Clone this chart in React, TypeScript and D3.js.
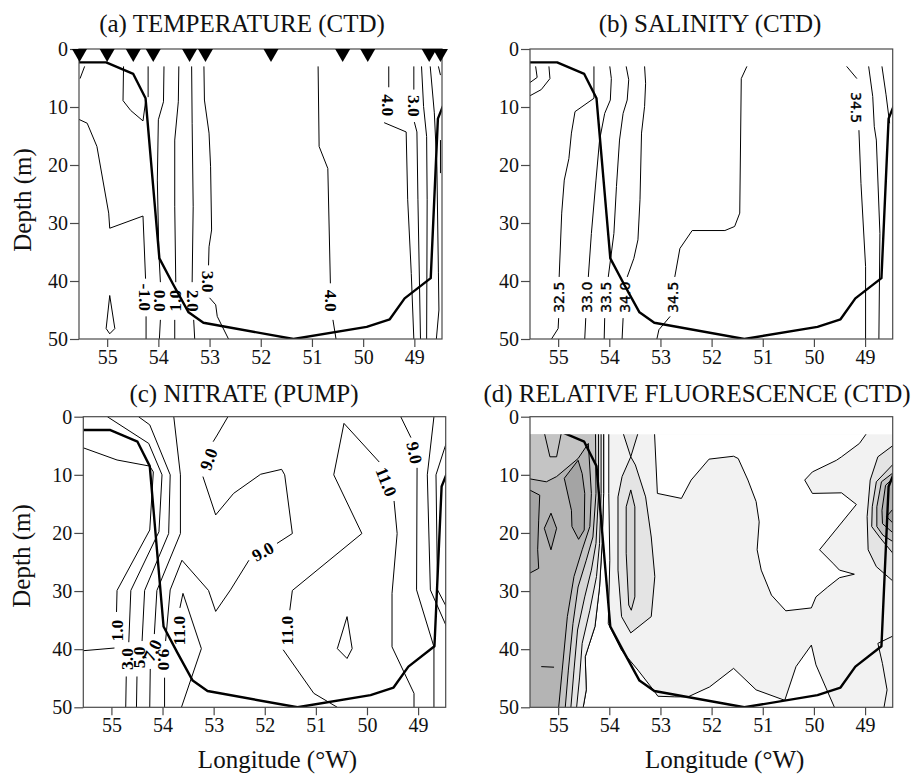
import React, { useRef, useEffect } from 'react';
import * as d3 from 'd3';

type Pt = [number, number]; // [longitude °W, depth m]
interface ContourLabel { text: string; at: Pt; rot: number }
interface Contour { segs: Pt[][]; labels?: ContourLabel[] }
interface Region { fill?: string; pts: Pt[] }

const lonTicks = [55, 54, 53, 52, 51, 50, 49];
const depthTicks = [0, 10, 20, 30, 40, 50];
const lonExtent: Pt = [55.55, 48.46];
const depthExtent: Pt = [0, 50];

// station positions (triangles on top of panel a)
const stationLon = [55.54, 55.0, 54.49, 54.1, 53.39, 53.08, 51.8, 50.4, 49.91, 48.71, 48.49];

// heavy line repeated in all four panels
const heavyLine: Pt[] = [
  [55.56, 2.3], [55.02, 2.3], [54.49, 4.3], [54.25, 8.5], [53.98, 36.1], [53.71, 40.6],
  [53.41, 45.4], [53.12, 47.2], [51.36, 50], [49.93, 47.9], [49.48, 46.6], [49.19, 43],
  [48.68, 39.5], [48.54, 12.0], [48.44, 9.8],
];

// (a) temperature contours
const temperature: Contour[] = [
  { segs: [[[55.44, 3], [55.53, 5.1]]] },
  {
    segs: [[[55.56, 12.1], [55.39, 12.8], [55.2, 16.8], [54.97, 28.3], [54.95, 30.9], [54.3, 28.8], [54.25, 39.6]], [[54.24, 46.1], [54.24, 50]]],
    labels: [{ text: '-1.0', at: [54.25, 42.8], rot: 90 }],
  },
  { segs: [[[54.2, 3], [54.2, 8.3]]] },
  { segs: [[[54.95, 42.5], [55.02, 48.2], [54.95, 49.1], [54.85, 48.2], [54.95, 42.5]]] },
  { segs: [[[54.68, 3], [54.69, 8.9], [54.54, 10.6], [54.3, 12.4], [54.25, 9.1]]] },
  {
    segs: [[[53.89, 3], [53.9, 9.1], [54.0, 12.2], [54.02, 22.6], [53.99, 35.2], [53.96, 40.2]], [[53.96, 46.7], [53.98, 50]]],
    labels: [{ text: '0.0', at: [53.96, 43.4], rot: 90 }],
  },
  {
    segs: [[[53.6, 3], [53.61, 9.1], [53.68, 15.7], [53.68, 27.2], [53.66, 40.2]], [[53.68, 46.7], [53.68, 50]]],
    labels: [{ text: '1.0', at: [53.67, 43.4], rot: -90 }],
  },
  {
    segs: [[[53.35, 3], [53.34, 12.8], [53.32, 27.2], [53.34, 40.2]], [[53.31, 46.7], [53.29, 50]]],
    labels: [{ text: '2.0', at: [53.33, 43.4], rot: 90 }],
  },
  {
    segs: [[[53.11, 3], [53.1, 8.8], [53.01, 14.5], [52.98, 20.3], [52.96, 31.2], [53.01, 34.1], [53.02, 37.3]], [[53.0, 42.9], [52.88, 44.1], [52.85, 46.1], [52.63, 50]]],
    labels: [{ text: '3.0', at: [53.03, 40.1], rot: 90 }],
  },
  {
    segs: [[[50.88, 3], [50.86, 16.8], [50.69, 20.6], [50.64, 40.4]], [[50.59, 46.7], [50.53, 50]]],
    labels: [{ text: '4.0', at: [50.63, 43.4], rot: 90 }],
  },
  {
    segs: [[[49.5, 3], [49.5, 6.6]], [[49.59, 12.7], [49.16, 14.3], [49.13, 26], [49.06, 38.7], [49.01, 50]]],
    labels: [{ text: '4.0', at: [49.52, 9.7], rot: 90 }],
  },
  {
    segs: [[[49.01, 3], [49.01, 7.0]], [[49.0, 12.6], [48.95, 14.3], [48.93, 26], [48.88, 50]]],
    labels: [{ text: '3.0', at: [49.0, 9.8], rot: 90 }],
  },
  { segs: [[[48.86, 3], [48.82, 9.9], [48.76, 15.1], [48.75, 26], [48.76, 50]]] },
  { segs: [[[48.69, 3], [48.61, 11], [48.56, 20.2], [48.53, 38.6], [48.52, 45], [48.57, 50]]] },
  { segs: [[[48.53, 3], [48.49, 4.5]], [[48.49, 15.7], [48.49, 21.4]]] },
];

// (b) salinity contours
const salinity: Contour[] = [
  { segs: [[[55.44, 3], [55.41, 4.9], [55.6, 6.1]]] },
  { segs: [[[55.18, 3], [55.16, 5.1], [55.33, 7.0], [55.6, 8.3]]] },
  {
    segs: [[[54.3, 3], [54.3, 8.5], [54.67, 10.8], [54.74, 14.5], [54.79, 18.9], [54.88, 22.6], [54.93, 28.3], [54.98, 39.3]], [[54.99, 46.4], [55.0, 48.2], [55.13, 50]]],
    labels: [{ text: '32.5', at: [54.99, 42.8], rot: -90 }],
  },
  {
    segs: [[[53.99, 3], [53.96, 5.1], [53.98, 8.8], [54.09, 11.1], [54.19, 15.7], [54.26, 22.6], [54.35, 31.8], [54.41, 39.3]], [[54.46, 46.4], [54.48, 50]]],
    labels: [{ text: '33.0', at: [54.43, 42.8], rot: -90 }],
  },
  {
    segs: [[[53.67, 3], [53.62, 5.3], [53.65, 8.8], [53.73, 11.1], [53.8, 15.7], [53.86, 23.7], [53.91, 31.8], [54.02, 39.3]], [[54.09, 46.4], [54.1, 50]]],
    labels: [{ text: '33.5', at: [54.06, 42.8], rot: -90 }],
  },
  {
    segs: [[[53.31, 3], [53.29, 5.9], [53.31, 9.9], [53.37, 14.5], [53.4, 26.0], [53.44, 32.9], [53.52, 36.1], [53.65, 39.3]], [[53.73, 46.4], [53.75, 50]]],
    labels: [{ text: '34.0', at: [53.69, 42.8], rot: -90 }],
  },
  {
    segs: [[[51.31, 3], [51.42, 5.1], [51.45, 28.3], [51.55, 30.6], [51.74, 31.3], [52.38, 31.3], [52.62, 34.4], [52.72, 39.3]], [[52.81, 46.1], [53.03, 48.4], [53.07, 50]]],
    labels: [{ text: '34.5', at: [52.76, 42.8], rot: -90 }],
  },
  {
    segs: [[[49.36, 3], [49.16, 5.1]], [[49.12, 14.0], [49.08, 23.2], [48.99, 37.5], [48.99, 50]]],
    labels: [{ text: '34.5', at: [49.18, 10.1], rot: 90 }],
  },
  { segs: [[[48.93, 3], [48.85, 8.2], [48.82, 13.4], [48.78, 15.7], [48.71, 31.8], [48.73, 50]]] },
  { segs: [[[48.67, 3], [48.59, 7.9], [48.52, 12.8]]] },
];

// (c) nitrate contours
const nitrate: Contour[] = [
  {
    segs: [[[55.6, 5.2], [54.89, 7.45], [54.25, 8.5], [54.18, 9.5], [54.25, 19.5], [54.89, 29.9], [54.9, 33.6]], [[54.94, 39.8], [55.6, 40.3]]],
    labels: [{ text: '1.0', at: [54.89, 36.8], rot: -90 }],
  },
  {
    segs: [[[55.08, 0], [54.27, 4.6], [54.01, 10.0], [54.07, 19.8], [54.62, 29.9], [54.66, 38.8]], [[54.71, 44.7], [54.72, 50]]],
    labels: [{ text: '3.0', at: [54.69, 41.7], rot: -90 }],
  },
  {
    segs: [[[54.47, 0], [54.25, 1.4], [53.85, 10.0], [53.88, 20.1], [54.35, 29.9], [54.4, 38.6]], [[54.5, 44.7], [54.51, 50]]],
    labels: [{ text: '5.0', at: [54.47, 41.4], rot: -90 }],
  },
  {
    segs: [[[53.78, 0], [53.65, 10.0], [53.65, 20.1], [54.11, 29.9], [54.16, 37.4]], [[54.24, 43.4], [54.25, 50]]],
    labels: [{ text: '7.0', at: [54.2, 40.2], rot: -65 }],
  },
  {
    segs: [
      [[52.72, 0], [52.93, 3.15], [53.01, 4.3]],
      [[53.21, 10.3], [52.96, 16.9], [52.61, 13.2], [52.08, 9.9], [51.67, 9.06], [51.61, 10.0], [51.46, 20.1], [51.76, 21.8]],
      [[52.31, 24.7], [52.67, 29.8], [52.96, 33.5], [53.1, 29.9], [53.62, 24.7], [53.85, 29.8], [53.94, 38.6]],
      [[53.96, 44.9], [53.96, 50]],
    ],
    labels: [
      { text: '9.0', at: [53.1, 7.3], rot: -70 },
      { text: '9.0', at: [52.04, 23.2], rot: -30 },
      { text: '9.0', at: [53.96, 41.8], rot: 90 },
    ],
  },
  {
    segs: [[[53.63, 50], [53.24, 39.9], [53.6, 30.4], [53.66, 32.9]]],
    labels: [{ text: '11.0', at: [53.68, 36.8], rot: -90 }],
  },
  {
    segs: [
      [[49.08, 50], [49.08, 47.6], [49.51, 39.6], [49.51, 30.4], [49.41, 20.1], [49.47, 14.5]],
      [[49.76, 7.8], [50.45, 1.15], [50.65, 10.0], [50.1, 20.1], [51.46, 29.9], [51.51, 33.3]],
      [[51.64, 40.1], [51.04, 47.6], [50.58, 50]],
    ],
    labels: [
      { text: '11.0', at: [49.62, 11.2], rot: 68 },
      { text: '11.0', at: [51.56, 36.8], rot: -90 },
    ],
  },
  { segs: [[[50.39, 34.4], [50.58, 39.9], [50.39, 41.6], [50.29, 39.9], [50.39, 34.4]]] },
  {
    segs: [[[49.34, 0], [49.14, 3.6]], [[49.02, 8.8], [49.03, 29.8], [48.69, 39.6], [48.69, 50]]],
    labels: [{ text: '9.0', at: [49.07, 6.2], rot: 78 }],
  },
  { segs: [[[48.69, 0], [48.82, 10.0], [48.76, 29.8], [48.4, 37.0]]] },
  { segs: [[[48.4, 3.2], [48.65, 10.0], [48.62, 29.8], [48.4, 33.5]]] },
];

// (d) relative fluorescence: shaded bands, drawn back to front
const L0 = '#ffffff';
const L1 = '#f2f2f2';
const L2 = '#e4e4e4';
const L3 = '#d6d6d6';
const L4 = '#c4c4c4';
const L5 = '#b4b4b4';
const L6 = '#a4a4a4';

const fluorescence: Region[] = [
  {
    fill: L0, pts: [[53.12, 2], [53.06, 13.2], [52.59, 14.06], [52.4, 10.9], [52.05, 7.3], [51.57, 6.8], [51.48, 7.2], [51.29, 10.9], [51.13, 14.6], [51.07, 18.1], [51.11, 22.9], [51.03, 26.4], [50.83, 30.7], [50.55, 33.4], [50.05, 32.9], [49.96, 31.0], [49.73, 29.3], [49.5, 27.7], [49.21, 27.1], [49.5, 26.4], [49.63, 25.2], [49.89, 22.9], [49.17, 15.1], [49.46, 13.1], [50.03, 13.2], [50.18, 10.9], [50.03, 9.5], [49.56, 7.5], [49.46, 6.9], [49.11, 4.6], [48.9, 2]],
  },
  {
    fill: L0, pts: [[54.01, 2], [54.01, 13.2], [53.99, 24.7], [54.02, 35.6], [53.76, 40.2], [53.44, 43.6], [53.14, 47.0], [53.05, 48.1], [52.72, 48.2], [52.46, 48.2], [52.04, 46.5], [51.57, 43.3], [51.13, 47.0], [50.57, 48.8], [50.35, 43.0], [50.05, 39.3], [49.96, 42.7], [49.55, 51], [54.53, 51], [54.45, 47.0], [54.47, 41.3], [54.28, 36.1], [54.19, 29.3], [54.14, 21.8], [54.11, 13.2], [54.11, 2]],
  },
  { fill: L2, pts: [[53.76, 2], [53.58, 6.9], [53.41, 2]] },
  { fill: L2, pts: [[53.58, 6.9], [53.75, 10.3], [53.83, 13.8], [53.83, 26.4], [53.76, 34.4], [53.58, 37.2], [53.18, 34.4], [53.11, 27.5], [53.18, 20.7], [53.29, 13.8], [53.49, 8.3]] },
  { fill: L3, pts: [[53.58, 12.6], [53.67, 15.5], [53.67, 23.5], [53.62, 32.4], [53.57, 33.3], [53.5, 31.0], [53.5, 15.5]] },
  { fill: L2, pts: [[48.4, 4.6], [48.75, 6.9], [48.9, 10.9], [48.96, 17.2], [48.94, 22.9], [48.78, 25.8], [48.4, 28.7]] },
  { fill: L3, pts: [[48.4, 7.7], [48.78, 11.2], [48.86, 15.5], [48.87, 18.9], [48.7, 20.9], [48.4, 24.1]] },
  { fill: L4, pts: [[48.4, 9.3], [48.68, 11.2], [48.77, 15.5], [48.77, 18.9], [48.65, 20.4], [48.4, 21.8]] },
  { fill: L5, pts: [[48.4, 10.2], [48.6, 11.8], [48.67, 16.1], [48.66, 18.4], [48.4, 20.4]] },
  { fill: L6, pts: [[48.4, 15.3], [48.58, 17.2], [48.4, 18.8]] },
  { pts: [[48.4, 37.5], [48.75, 39.0], [48.66, 42.5], [48.57, 47.0], [48.65, 51], [48.4, 51]] },
  { fill: L1, pts: [[54.11, 2], [54.11, 13.2], [54.14, 21.8], [54.19, 29.3], [54.28, 36.1], [54.47, 41.3], [54.45, 47.0], [54.53, 51], [56, 51], [56, 2]] },
  { fill: L2, pts: [[54.16, 2], [54.16, 13.2], [54.19, 21.8], [54.25, 27.5], [54.38, 33.3], [54.53, 39.0], [54.58, 44.8], [54.65, 51], [56, 51], [56, 2]] },
  { fill: L3, pts: [[54.21, 2], [54.21, 13.2], [54.26, 21.8], [54.35, 26.4], [54.48, 31.0], [54.62, 36.7], [54.69, 43.6], [54.76, 51], [56, 51], [56, 2]] },
  { fill: L4, pts: [[54.27, 2], [54.26, 13.2], [54.32, 20.7], [54.45, 24.7], [54.61, 29.3], [54.71, 35.6], [54.8, 43.6], [54.87, 51], [56, 51], [56, 2]] },
  { pts: [[55.29, 2], [55.16, 6.9], [55.03, 6.9], [54.92, 2]] },
  { fill: L5, pts: [[56, 10.0], [55.23, 11.2], [55.03, 10.3], [54.61, 7.2], [54.41, 4.6], [54.35, 13.2], [54.38, 18.9], [54.53, 22.9], [54.69, 27.5], [54.82, 34.4], [54.92, 43.6], [55.0, 51], [56, 51]] },
  { fill: L6, pts: [[56, 10.6], [55.36, 13.5], [55.38, 17.8], [55.4, 22.9], [55.38, 26.1], [56, 29.0]] },
  { fill: L6, pts: [[54.61, 7.5], [54.88, 10.6], [54.74, 16.1], [54.73, 18.9], [54.6, 21.1], [54.49, 19.5], [54.48, 13.2], [54.53, 9.8]] },
  { fill: L6, pts: [[55.14, 16.6], [55.27, 19.2], [55.14, 22.9], [55.03, 19.2]] },
];
const fluorTicks: Pt[][] = [[[55.33, 43.0], [55.08, 43.1]]];

const SERIF = '"Liberation Serif", "Times New Roman", Times, serif';
const SANS = '"DejaVu Sans", Verdana, sans-serif';
const FRAME = '#4a4a4a';

const panels = [
  { id: 'a', title: '(a) TEMPERATURE (CTD)', tx: 242, ty: 32, left: 79, right: 442, top: 49, bottom: 339, depthTitle: [31, 200], lonTitle: null, data: temperature, labelFont: SERIF, labelSize: 17.5, labelWeight: 'bold', labelStroke: 0 },
  { id: 'b', title: '(b) SALINITY (CTD)', tx: 710, ty: 32, left: 530, right: 892.7, top: 49, bottom: 339, depthTitle: null, lonTitle: null, data: salinity, labelFont: SANS, labelSize: 14, labelWeight: 'normal', labelStroke: 0.35 },
  { id: 'c', title: '(c) NITRATE (PUMP)', tx: 244, ty: 402, left: 83.3, right: 445.7, top: 416.7, bottom: 707.3, depthTitle: [30, 556], lonTitle: [277.5, 768], data: nitrate, labelFont: SERIF, labelSize: 17.5, labelWeight: 'bold', labelStroke: 0 },
  { id: 'd', title: '(d) RELATIVE FLUORESCENCE (CTD)', tx: 697, ty: 402, left: 530, right: 892.7, top: 416.7, bottom: 707.3, depthTitle: null, lonTitle: [724.7, 768], data: null, labelFont: SERIF, labelSize: 17.5, labelWeight: 'bold', labelStroke: 0 },
];

const App: React.FC = () => {
  const svgRef = useRef<SVGSVGElement>(null);

  useEffect(() => {
    if (!svgRef.current) return;
    const svg = d3.select(svgRef.current);
    svg.selectAll('*').remove();
    const defs = svg.append('defs');

    panels.forEach((p) => {
      const x = d3.scaleLinear().domain(lonExtent).range([p.left, p.right]);
      const y = d3.scaleLinear().domain(depthExtent).range([p.top, p.bottom]);
      const line = d3.line<Pt>().x((d) => x(d[0])).y((d) => y(d[1]));
      const clipTop = p.id === 'd' ? y(3) : p.top;

      defs.append('clipPath').attr('id', `clip-${p.id}`)
        .append('rect')
        .attr('x', p.left).attr('y', clipTop)
        .attr('width', p.right - p.left).attr('height', p.bottom - clipTop);

      const plot = svg.append('g').attr('clip-path', `url(#clip-${p.id})`);

      if (p.data) {
        p.data.forEach((c) => {
          c.segs.forEach((s) => {
            plot.append('path').attr('d', line(s))
              .attr('fill', 'none').attr('stroke', '#000').attr('stroke-width', 1)
              .attr('stroke-linejoin', 'round');
          });
        });
      } else {
        plot.append('rect')
          .attr('x', p.left).attr('y', clipTop)
          .attr('width', p.right - p.left).attr('height', p.bottom - clipTop)
          .attr('fill', L1);
        fluorescence.forEach((r) => {
          plot.append('path').attr('d', line(r.pts) + 'Z')
            .attr('fill', r.fill || 'none').attr('stroke', '#000').attr('stroke-width', 1)
            .attr('stroke-linejoin', 'round');
        });
        fluorTicks.forEach((s) => {
          plot.append('path').attr('d', line(s)).attr('fill', 'none')
            .attr('stroke', '#000').attr('stroke-width', 1);
        });
      }

      plot.append('path').attr('d', line(heavyLine))
        .attr('fill', 'none').attr('stroke', '#000').attr('stroke-width', 2.4)
        .attr('stroke-linejoin', 'round');

      // contour labels
      if (p.data) {
        p.data.forEach((c) => {
          (c.labels || []).forEach((l) => {
            svg.append('text')
              .attr('transform', `translate(${x(l.at[0])},${y(l.at[1])}) rotate(${l.rot})`)
              .attr('text-anchor', 'middle').attr('dy', '0.35em')
              .attr('font-family', p.labelFont).attr('font-size', p.labelSize)
              .attr('font-weight', p.labelWeight).attr('fill', '#000')
              .attr('stroke', p.labelStroke ? '#000' : 'none').attr('stroke-width', p.labelStroke)
              .text(l.text);
          });
        });
      }

      // frame
      svg.append('rect')
        .attr('x', p.left).attr('y', p.top)
        .attr('width', p.right - p.left).attr('height', p.bottom - p.top)
        .attr('fill', 'none').attr('stroke', FRAME).attr('stroke-width', 1.2);

      // axes
      const ya = svg.append('g').attr('transform', `translate(${p.left},0)`)
        .call(d3.axisLeft(y).tickValues(depthTicks).tickSize(9).tickPadding(2).tickFormat(d3.format('d')));
      ya.attr('font-family', SERIF).attr('font-size', 20);
      ya.select('.domain').remove();
      ya.selectAll('line').attr('stroke', FRAME).attr('stroke-width', 1.2);
      ya.selectAll('text').attr('fill', '#111');

      const xa = svg.append('g').attr('transform', `translate(0,${p.bottom})`)
        .call(d3.axisBottom(x).tickValues(lonTicks).tickSize(8).tickPadding(3).tickFormat(d3.format('d')));
      xa.attr('font-family', SERIF).attr('font-size', 20);
      xa.select('.domain').remove();
      xa.selectAll('line').attr('stroke', FRAME).attr('stroke-width', 1.2);
      xa.selectAll('text').attr('fill', '#111');

      // titles
      svg.append('text').attr('x', p.tx).attr('y', p.ty)
        .attr('text-anchor', 'middle').attr('font-family', SERIF).attr('font-size', 25)
        .attr('fill', '#111').text(p.title);

      if (p.depthTitle) {
        svg.append('text')
          .attr('transform', `translate(${p.depthTitle[0]},${p.depthTitle[1]}) rotate(-90)`)
          .attr('text-anchor', 'middle').attr('font-family', SERIF).attr('font-size', 25)
          .attr('fill', '#111').text('Depth (m)');
      }
      if (p.lonTitle) {
        svg.append('text').attr('x', p.lonTitle[0]).attr('y', p.lonTitle[1])
          .attr('text-anchor', 'middle').attr('font-family', SERIF).attr('font-size', 25)
          .attr('fill', '#111').text('Longitude (°W)');
      }

      // station markers on panel a
      if (p.id === 'a') {
        svg.append('g').selectAll('path')
          .data(stationLon)
          .enter().append('path')
          .attr('d', (d) => {
            const pth = d3.path();
            const cx = x(d);
            pth.moveTo(cx - 7.5, p.top);
            pth.lineTo(cx + 7.5, p.top);
            pth.lineTo(cx, p.top + 13);
            pth.closePath();
            return pth.toString();
          })
          .attr('fill', '#000');
      }
    });
  }, []);

  return (
    <svg
      ref={svgRef}
      width={923}
      height={776}
      style={{ position: 'absolute', left: 0, top: 0, background: '#fff' }}
    />
  );
};

export default App;
